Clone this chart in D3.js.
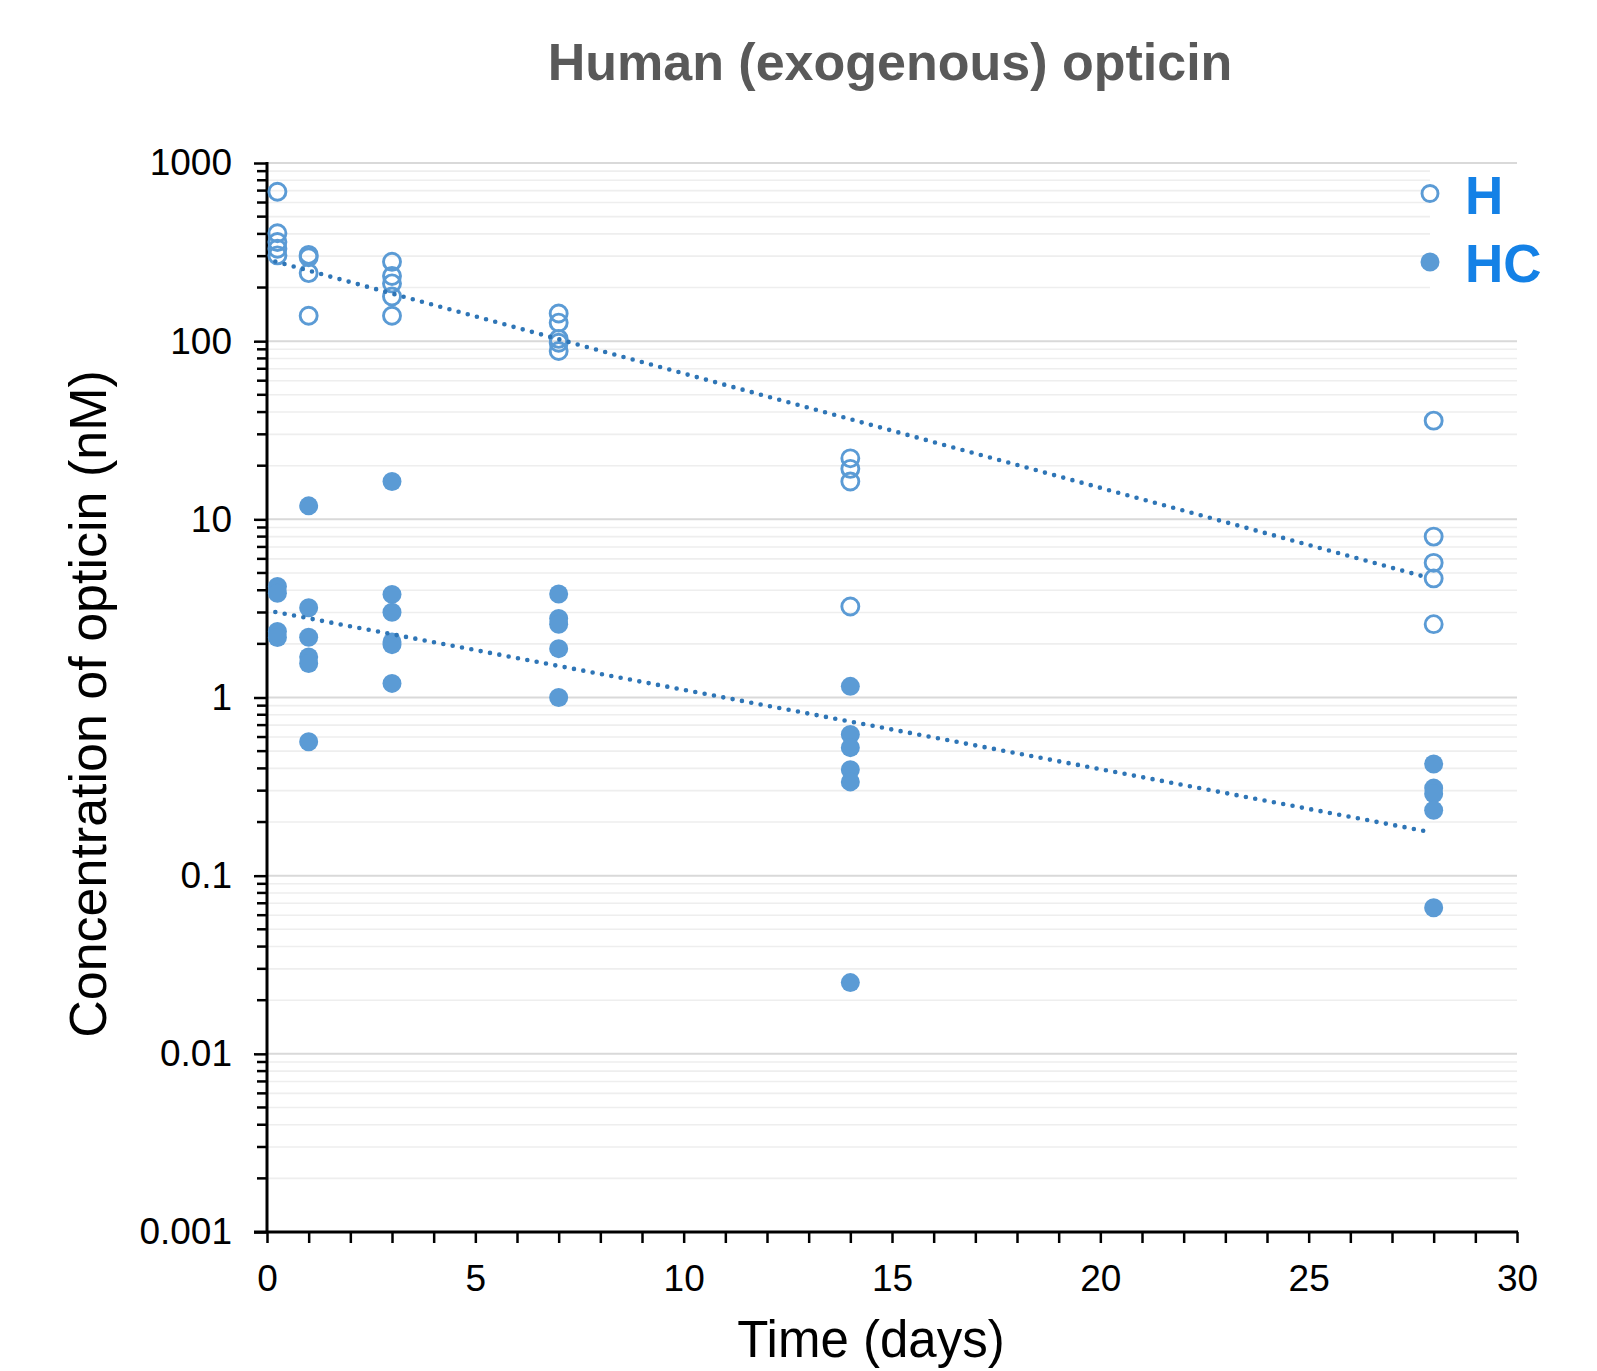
<!DOCTYPE html>
<html>
<head>
<meta charset="utf-8">
<script src="https://cdn.jsdelivr.net/npm/d3@7"></script>
<style>
  body { margin: 0; background: #fff; }
  svg { display: block; font-family: "Liberation Sans", Arial, sans-serif; }
</style>
</head>
<body>
<svg id="chart"></svg>
<script>
// sampling days
const days = [0.25, 1, 3, 7, 14, 28];

// H (exogenous human opticin), open circles, one list per day
const hValues = [
    [690, 403, 360, 330, 303],
    [305, 296, 241, 139],
    [279, 232, 211, 178, 139],
    [143, 127, 103, 98, 88],
    [22, 19.2, 16.3, 3.24],
    [35.8, 8.0, 5.7, 4.66, 2.58]
];

// HC, filled circles
const hcValues = [
    [4.2, 3.85, 2.35, 2.17],
    [11.9, 3.19, 2.18, 1.69, 1.55, 0.565],
    [16.3, 3.79, 3.01, 2.05, 1.98, 1.2],
    [3.81, 2.78, 2.58, 1.88, 1.0],
    [1.155, 0.62, 0.523, 0.393, 0.336, 0.0251],
    [0.423, 0.31, 0.288, 0.233, 0.066]
];

// exponential trendline end points [day, nM]
const hTrend = [[0.2, 280], [27.8, 4.75]];
const hcTrend = [[0.2, 3.02], [27.9, 0.176]];

const yTickValues = [0.001, 0.01, 0.1, 1, 10, 100, 1000];
const yTickLabels = ["0.001", "0.01", "0.1", "1", "10", "100", "1000"];
const xTickValues = [0, 5, 10, 15, 20, 25, 30];

const seriesNames = ["H", "HC"];

let svg_width = 1597, svg_height = 1371;
let plotLeft = 267, plotRight = 1517, plotTop = 163, plotBottom = 1232;

const markerColor = "#5b9bd5";
const trendColor = "#2e75b6";

let svg = d3.select("#chart")
    .attr("width", svg_width)
    .attr("height", svg_height);

let x = d3.scaleLinear().domain([0, 30]).range([plotLeft, plotRight]);
let y = d3.scaleLog().domain([0.001, 1000]).range([plotBottom, plotTop]);

// every 1..9 value in each decade, for gridlines and minor ticks
let allY = [];
for (let e = -3; e < 3; e++) {
    for (let m = 1; m < 10; m++) allY.push(+(m * Math.pow(10, e)).toPrecision(3));
}
allY.push(1000);
let minorY = allY.filter(v => !yTickValues.includes(v));

// gridlines
let grid = svg.append("g");
grid.selectAll("line.minor")
    .data(minorY).enter().append("line")
    .attr("x1", plotLeft).attr("x2", plotRight)
    .attr("y1", d => y(d)).attr("y2", d => y(d))
    .attr("stroke", "#eeeeee").attr("stroke-width", 1.6);
grid.selectAll("line.major")
    .data(yTickValues.slice(1)).enter().append("line")
    .attr("x1", plotLeft).attr("x2", plotRight)
    .attr("y1", d => y(d)).attr("y2", d => y(d))
    .attr("stroke", "#d9d9d9").attr("stroke-width", 2);

// white legend box hides the minor grid behind it
svg.append("rect")
    .attr("x", 1430).attr("y", 166)
    .attr("width", 90).attr("height", 129)
    .attr("fill", "#fff");

// y axis
let yAxis = svg.append("g").attr("transform", `translate(${plotLeft},0)`);
yAxis.call(d3.axisLeft(y).tickValues(yTickValues)
        .tickFormat((d, i) => yTickLabels[i]).tickSize(13).tickPadding(22))
    .call(g => g.select(".domain").remove());
yAxis.selectAll(".tick line").attr("stroke", "#000").attr("stroke-width", 2.5);
yAxis.selectAll(".tick text")
    .attr("font-size", 37).attr("fill", "#000")
    .attr("font-family", "Liberation Sans, Arial, sans-serif");
yAxis.selectAll("line.minor")
    .data(minorY).enter().append("line")
    .attr("x1", -10).attr("x2", 0)
    .attr("y1", d => y(d)).attr("y2", d => y(d))
    .attr("stroke", "#000").attr("stroke-width", 2.5);

// x axis
let xAxis = svg.append("g").attr("transform", `translate(0,${plotBottom})`);
xAxis.call(d3.axisBottom(x).ticks(30).tickFormat(d => xTickValues.includes(d) ? d : "")
        .tickSize(11).tickPadding(22))
    .call(g => g.select(".domain").remove());
xAxis.selectAll(".tick line").attr("stroke", "#000").attr("stroke-width", 2.5);
xAxis.selectAll(".tick text")
    .attr("font-size", 37).attr("fill", "#000")
    .attr("font-family", "Liberation Sans, Arial, sans-serif");

// axis lines
svg.append("line")
    .attr("x1", plotLeft).attr("x2", plotLeft).attr("y1", plotTop - 1).attr("y2", plotBottom + 1)
    .attr("stroke", "#000").attr("stroke-width", 3);
svg.append("line")
    .attr("x1", plotLeft - 13).attr("x2", plotRight + 1).attr("y1", plotBottom).attr("y2", plotBottom)
    .attr("stroke", "#000").attr("stroke-width", 3);

// flatten points
let hPoints = [], hcPoints = [];
days.forEach((d, i) => {
    hValues[i].forEach(v => hPoints.push({day: d, v: v}));
    hcValues[i].forEach(v => hcPoints.push({day: d, v: v}));
});

svg.append("g").selectAll("circle")
    .data(hPoints).enter().append("circle")
    .attr("cx", d => x(d.day)).attr("cy", d => y(d.v))
    .attr("r", 8.5)
    .attr("fill", "none").attr("stroke", markerColor).attr("stroke-width", 2.9);

svg.append("g").selectAll("circle")
    .data(hcPoints).enter().append("circle")
    .attr("cx", d => x(d.day)).attr("cy", d => y(d.v))
    .attr("r", 9.5)
    .attr("fill", markerColor);

// trendlines
let lineGenerator = d3.line()
    .x(d => x(d[0]))
    .y(d => y(d[1]));

[hTrend, hcTrend].forEach(t => {
    svg.append("path")
        .attr("d", lineGenerator(t))
        .attr("fill", "none")
        .attr("stroke", trendColor)
        .attr("stroke-width", 4.6)
        .attr("stroke-linecap", "round")
        .attr("stroke-dasharray", "0,9.5");
});

// legend
let legend = svg.append("g");
legend.append("circle")
    .attr("cx", 1430).attr("cy", 193.5).attr("r", 8)
    .attr("fill", "#fff").attr("stroke", markerColor).attr("stroke-width", 2.9);
legend.append("circle")
    .attr("cx", 1430).attr("cy", 262).attr("r", 9.5)
    .attr("fill", markerColor);
legend.selectAll("text")
    .data(seriesNames).enter().append("text")
    .attr("x", 1465)
    .attr("y", (d, i) => 214 + i * 68)
    .attr("font-size", 53).attr("font-weight", "bold")
    .attr("fill", "#1481e6")
    .text(d => d);

// title
svg.append("text")
    .attr("x", 890).attr("y", 80)
    .attr("text-anchor", "middle")
    .attr("font-size", 52).attr("font-weight", "bold")
    .attr("fill", "#595959")
    .text("Human (exogenous) opticin");

// axis titles
svg.append("text")
    .attr("x", 871).attr("y", 1357)
    .attr("text-anchor", "middle")
    .attr("font-size", 51).attr("fill", "#000")
    .text("Time (days)");

svg.append("text")
    .attr("transform", "translate(106,704) rotate(-90)")
    .attr("text-anchor", "middle")
    .attr("font-size", 52).attr("fill", "#000")
    .text("Concentration of opticin (nM)");
</script>
</body>
</html>
